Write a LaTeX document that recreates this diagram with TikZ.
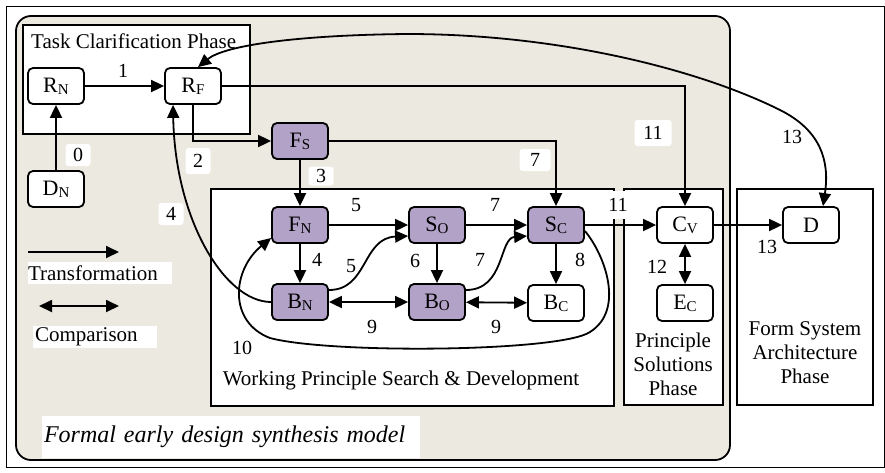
\documentclass[tikz,border=0pt]{standalone}
\usepackage{fontspec}
\setmainfont{Liberation Serif}
\usetikzlibrary{arrows.meta}

\definecolor{panelgray}{RGB}{236,233,224}
\definecolor{nodepurple}{RGB}{178,162,199}

% state symbol: capital letter with a small capital index
\newcommand\sym[2]{{\fontsize{22}{22}\selectfont #1}\raisebox{-2pt}{\fontsize{15}{15}\selectfont #2}}

\begin{document}
\begin{tikzpicture}[x=1pt,y=-1pt,
  state/.style={draw, line width=1.8pt, rounded corners=5pt, minimum width=56pt,
    minimum height=36pt, inner sep=0pt, fill=white},
  active/.style={state, fill=nodepurple},
  phasebox/.style={draw, line width=1.8pt, fill=white},
  tip/.tip={Triangle[length=13pt,width=12pt]},
  link/.style={line width=1.8pt, -tip},
  both/.style={line width=1.8pt, tip-tip},
  num/.style={font=\fontsize{20}{20}\selectfont, inner sep=1pt},
  tag/.style={num, fill=white, rounded corners=3pt, minimum width=25pt, minimum height=22pt},
  txt/.style={font=\fontsize{21}{24}\selectfont},
  legend/.style={txt, fill=white, inner sep=0pt, align=left, minimum height=22pt}
]
\useasboundingbox (0,0) rectangle (885,472);

% frame and model panel
\draw[line width=0.8pt] (6,6) rectangle (884,467);
\draw[line width=1.8pt, fill=panelgray, rounded corners=15pt] (16,16) rectangle (730,460);

% phase boxes
\draw[phasebox] (23,25) rectangle (250,134);
\draw[phasebox] (211,189) rectangle (614,406);
\draw[phasebox] (624,189) rectangle (723,405);
\draw[phasebox] (737,189) rectangle (873,405);

\node[txt, anchor=base west, inner sep=0pt] (tcp) at (31,48) {Task Clarification Phase};
\node[txt, anchor=base, inner sep=0pt] (wpsd) at (401,385) {Working Principle Search \& Development};
\node[txt, align=center, inner sep=0pt] (psp) at (673,364) {Principle\\Solutions\\Phase};
\node[txt, align=center, inner sep=0pt] (fsap) at (805,353) {Form System\\Architecture\\Phase};

% states
\node[state]  (RN) at (56,86)   {\sym{R}{N}};
\node[state]  (RF) at (193,86)  {\sym{R}{F}};
\node[state]  (DN) at (56,189)  {\sym{D}{N}};
\node[active] (FS) at (300,141) {\sym{F}{S}};
\node[active] (FN) at (300,225) {\sym{F}{N}};
\node[active] (BN) at (300,302) {\sym{B}{N}};
\node[active] (SO) at (437,225) {\sym{S}{O}};
\node[active] (BO) at (437,302) {\sym{B}{O}};
\node[active] (SC) at (556,225) {\sym{S}{C}};
\node[state]  (BC) at (556,303) {\sym{B}{C}};
\node[state]  (CV) at (685,225) {\sym{C}{V}};
\node[state]  (EC) at (685,303) {\sym{E}{C}};
\node[state]  (D)  at (811,225) {{\fontsize{22}{22}\selectfont D}};

% transformations
\draw[link] (RN) -- (RF);
\draw[link] (DN) -- (RN);
\draw[link] (RF.south) |- (FS.west);
\draw[link] (RF.east) -| (CV.north);
\draw[link] (FS.east) -| (SC.north);
\draw[link] (FS) -- (FN);
\draw[link] (FN) -- (SO);
\draw[link] (SO) -- (SC);
\draw[link] (SC) -- (CV);
\draw[link] (CV) -- (D);
\draw[link] (FN) -- (BN);
\draw[link] (SO) -- (BO);
\draw[link] (SC) -- (BC);
\draw[link] (BN.west) .. controls (225,302) and (175,220) .. ([xshift=-20pt]RF.south);
\draw[link] ([yshift=12pt]BN.east) .. controls (368,290) and (362,238) .. ([yshift=-11pt]SO.west);
\draw[link] ([yshift=12pt]BO.east) .. controls (505,290) and (499,238) .. ([yshift=-11pt]SC.west);
\draw[link] ([yshift=-6pt]SC.east) .. controls (605,255) and (625,310) .. (590,332)
  .. controls (560,352) and (330,354) .. (270,338)
  .. controls (228,322) and (232,270) .. ([yshift=-13pt]FN.west);

% comparisons
\draw[both] (BN) -- (BO);
\draw[both] (BO) -- (BC);
\draw[both] (CV) -- (EC);
\draw[both] ([xshift=5pt]RF.north) .. controls (225,45) and (300,35) .. (407,34)
  .. controls (560,34) and (700,70) .. (780,110)
  .. controls (820,130) and (830,160) .. ([xshift=12pt]D.north);

% edge numbers
\node[num] (n1)  at (123,71)  {1};
\node[tag] (n0)  at (78,155)  {0};
\node[tag, minimum height=26pt] (n2) at (198,161) {2};
\node[tag] (n4a) at (171,214) {4};
\node[tag, minimum height=19pt] (n3) at (321,176) {3};
\node[tag, minimum width=31pt] (n7a) at (535,160) {7};
\node[tag, minimum width=37pt, minimum height=26pt] (n11a) at (653,133) {11};
\node[num] (n5a)  at (356,205) {5};
\node[num] (n4b)  at (317,260) {4};
\node[num] (n5b)  at (351,266) {5};
\node[num] (n6)   at (415,261) {6};
\node[num] (n7b)  at (480,260) {7};
\node[num] (n7c)  at (495,205) {7};
\node[num] (n8)   at (580,260) {8};
\node[num] (n9a)  at (372,327) {9};
\node[num] (n9b)  at (496,327) {9};
\node[num] (n10)  at (242,348) {10};
\node[num] (n12)  at (657,267) {12};
\node[num] (n13a) at (767,247) {13};
\node[num] (n13b) at (792,137) {13};
\node[num, fill=white, inner sep=0pt, minimum height=28pt] (n11b) at (618,205) {11};

% legend
\coordinate (ta) at (28,252);
\coordinate (tb) at (119,252);
\draw[link] (ta) -- (tb);
\node[legend, text width=144pt] (ltrans) at (100,273) {Transformation};
\coordinate (ca) at (39,306);
\coordinate (cb) at (119,306);
\draw[both] (ca) -- (cb);
\node[legend, text width=120pt, inner xsep=2pt] (lcomp) at (95,336.5) {Comparison};

% model caption
\node[fill=white, inner xsep=2pt, inner ysep=0pt, minimum height=42pt, text width=374pt,
  align=left, font=\fontsize{24}{24}\selectfont\itshape] (cap) at (231,437)
  {Formal early design synthesis model};
\end{tikzpicture}
\end{document}
